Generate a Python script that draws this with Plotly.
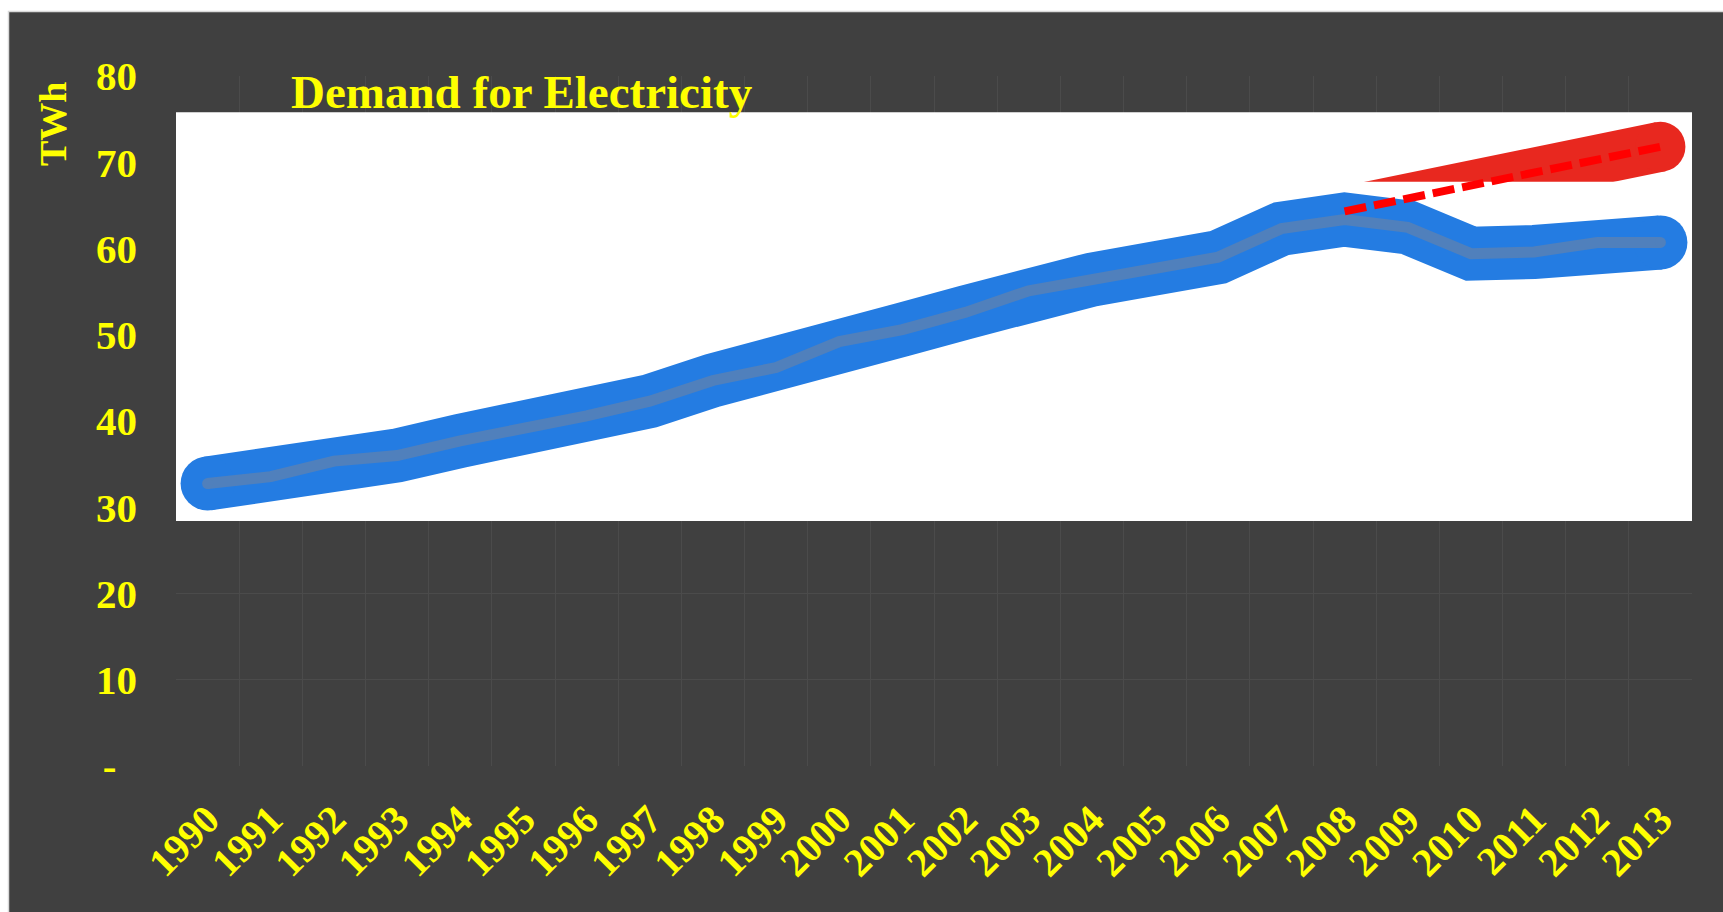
import plotly.graph_objects as go

# ---------------- data ----------------
years = [str(y) for y in range(1990, 2014)]
demand_twh = [32.75, 33.55, 35.35, 36.0, 37.7, 39.0, 40.6, 42.3, 44.7, 46.2,
              49.2, 50.6, 52.6, 55.1, 56.4, 57.7, 59.0, 62.3, 63.35, 62.45,
              59.4, 59.6, 60.7, 60.7]
trend_years = ["2008", "2009", "2010", "2011", "2012", "2013"]
trend_twh = [64.3, 65.8, 67.3, 68.8, 70.3, 71.8]
y_tickvals = [0, 10, 20, 30, 40, 50, 60, 70, 80]
y_ticktext = ["-\u00a0\u00a0", "10", "20", "30", "40", "50", "60", "70", "80"]
title_text = "Demand for Electricity"
y_title = "TWh"

# ---------------- layout constants ----------------
W, H = 1723, 912
ML, MR, MT, MB = 176, 31, 76, 146
PW, PH = W - ML - MR, H - MT - MB


def px_x(px):
    return (px - ML) / PW


def px_y(py):
    return (H - MB - py) / PH


BG = "#404040"
YEL = "#FFFF00"
GRID = "#4b4b4b"
BLUE = "#247CE2"
INNER = "#5080BC"
RED_BAND = "#E8281F"
RED_DASH = "#FF0000"
FONT = "Liberation Serif"

n = len(years)
xr = [-0.5, n - 0.5]
yr = [0, 80]
BLUE_W, INNER_W, RED_W, DASH_W = 54, 11, 50, 8


def end_caps(vals, size):
    return [size if i in (0, len(vals) - 1) else 0 for i in range(len(vals))]


fig = go.Figure()

# subplot 1 : axes, grid and labels only (invisible carrier trace)
fig.add_trace(go.Scatter(
    x=years, y=demand_twh, xaxis="x", yaxis="y", mode="lines",
    line=dict(color="rgba(0,0,0,0)", width=0),
    hoverinfo="skip", showlegend=False))

# subplot 2 : thick red band
fig.add_trace(go.Scatter(
    x=trend_years, y=trend_twh, xaxis="x2", yaxis="y2", mode="lines+markers",
    line=dict(color=RED_BAND, width=RED_W),
    marker=dict(size=end_caps(trend_twh, RED_W), color=RED_BAND, opacity=1,
                line=dict(width=0)),
    hoverinfo="skip", showlegend=False))

# subplot 3 : demand line and dashed trend
fig.add_trace(go.Scatter(
    x=years, y=demand_twh, xaxis="x3", yaxis="y3", mode="lines+markers",
    line=dict(color=BLUE, width=BLUE_W),
    marker=dict(size=end_caps(demand_twh, BLUE_W), color=BLUE, opacity=1,
                line=dict(width=0)),
    hoverinfo="skip", showlegend=False))
fig.add_trace(go.Scatter(
    x=years, y=demand_twh, xaxis="x3", yaxis="y3", mode="lines+markers",
    line=dict(color=INNER, width=INNER_W),
    marker=dict(size=end_caps(demand_twh, INNER_W), color=INNER, opacity=1,
                line=dict(width=0)),
    hoverinfo="skip", showlegend=False))
fig.add_trace(go.Scatter(
    x=trend_years, y=trend_twh, xaxis="x3", yaxis="y3", mode="lines",
    line=dict(color=RED_DASH, width=DASH_W, dash="22px,8px"),
    hoverinfo="skip", showlegend=False))

tick_font = dict(family=FONT, size=40, color=YEL, weight="bold")

common_x = dict(type="category", categoryorder="array", categoryarray=years,
                range=xr, domain=[0, 1])
common_y = dict(range=yr, domain=[0, 1])

fig.update_layout(
    width=W, height=H,
    margin=dict(l=ML, r=MR, t=MT, b=MB, pad=0),
    paper_bgcolor="white",
    plot_bgcolor="rgba(0,0,0,0)",
    hovermode=False,
    showlegend=False,
    xaxis=dict(**common_x, anchor="y", tickson="boundaries", showgrid=True,
               gridcolor=GRID, gridwidth=1, zeroline=False, showline=False,
               ticks="", tickangle=-45, tickfont=tick_font,
               ticklabelstandoff=21),
    yaxis=dict(**common_y, anchor="x", tickmode="array", tickvals=y_tickvals,
               ticktext=y_ticktext, showgrid=True, gridcolor=GRID, gridwidth=1,
               zeroline=False, showline=False, ticks="",
               tickfont=dict(family=FONT, size=41, color=YEL, weight="bold"),
               ticklabelstandoff=38),
    xaxis2=dict(**common_x, anchor="y2", visible=False),
    yaxis2=dict(**common_y, anchor="x2", visible=False),
    xaxis3=dict(**common_x, anchor="y3", visible=False),
    yaxis3=dict(**common_y, anchor="x3", visible=False),
)

shapes = [
    # dark chart area with light border
    dict(type="rect", xref="paper", yref="paper", layer="below",
         x0=px_x(8.5), x1=px_x(W + 10), y0=px_y(11.5), y1=px_y(H + 10),
         fillcolor=BG, line=dict(color="#d9d9d9", width=1.5)),
    # white panel behind the series
    dict(type="rect", xref="x2", yref="y2", layer="below",
         x0=xr[0], x1=xr[1] + 0.03, y0=28.4, y1=75.8,
         fillcolor="white", line=dict(width=0)),
    # white patch covering the lower part of the red band
    dict(type="rect", xref="x3", yref="y3", layer="below",
         x0=xr[0], x1=xr[1], y0=28.4, y1=67.75,
         fillcolor="white", line=dict(width=0)),
]
fig.update_layout(shapes=shapes)

fig.add_annotation(
    text=title_text, xref="paper", yref="paper", x=px_x(289), y=px_y(92),
    xanchor="left", yanchor="middle", showarrow=False,
    font=dict(family=FONT, size=47, color=YEL, weight="bold"))
fig.add_annotation(
    text=y_title, xref="paper", yref="paper", x=px_x(53), y=px_y(124),
    xanchor="center", yanchor="middle", showarrow=False, textangle=-90,
    font=dict(family=FONT, size=38, color=YEL, weight="bold"))

fig.write_html("out.html")
